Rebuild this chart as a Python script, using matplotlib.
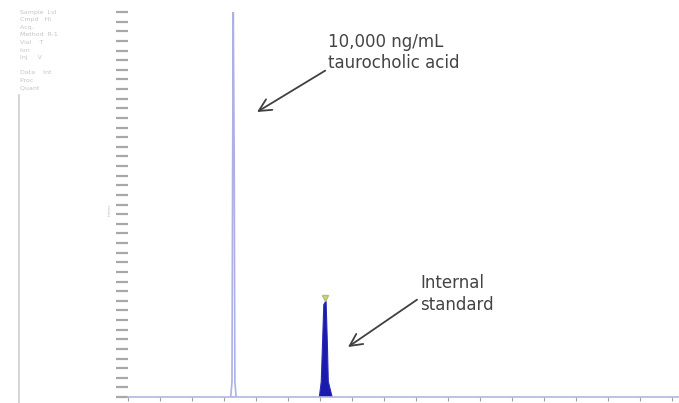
import matplotlib
matplotlib.use("Agg")
import matplotlib.pyplot as plt
from matplotlib.ticker import MultipleLocator, NullFormatter

# Data: retention time (min) vs relative intensity (%)
peak1_t = [1.605, 1.625, 1.635, 1.645, 1.66, 1.67, 1.69]
peak1_y = [0.0, 4.0, 60.0, 100.0, 60.0, 4.0, 0.0]
peak2_t = [2.99, 3.02, 3.04, 3.06, 3.095, 3.115, 3.13, 3.19]
peak2_y = [0.0, 4.0, 14.0, 24.0, 25.0, 14.0, 4.0, 0.0]
peak2_apex = (3.078, 25.8)

label1 = "10,000 ng/mL\ntaurocholic acid"
label2 = "Internal\nstandard"

fig = plt.figure(figsize=(6.79, 4.03), dpi=100)
W, H = 679, 403
ax = fig.add_axes([128 / W, (H - 397) / H, (679 - 128) / W, (397 - 12) / H])
ax.set_xlim(0, 8.61)
ax.set_ylim(0, 100)

ax.fill(peak1_t, peak1_y, facecolor="none", edgecolor="#aeb0e6", lw=1.2)
ax.fill(peak2_t, peak2_y, facecolor="#1a1aac", edgecolor="#2a2ab8", lw=0.8)
ax.plot([peak2_apex[0]], [peak2_apex[1]], marker="v", ms=4, color="#c8d890", mec="#b0c070")

for s in ["top", "right"]:
    ax.spines[s].set_visible(False)
ax.spines["left"].set_visible(False)
ax.spines["bottom"].set_color("#b4b6e0")
ax.spines["bottom"].set_linewidth(1.2)

ax.xaxis.set_major_locator(MultipleLocator(0.5))
ax.xaxis.set_major_formatter(NullFormatter())
ax.tick_params(axis="x", length=3, color="#a0a0a0", width=0.8)
ax.yaxis.set_major_locator(MultipleLocator(2.5))
ax.yaxis.set_major_formatter(NullFormatter())
ax.tick_params(axis="y", which="major", length=9, color="#a8a8a8", width=1.6)

ax.annotate(label1, xy=(257 / W, (H - 112) / H), xycoords="figure fraction",
            xytext=(328 / W, (H - 33) / H), textcoords="figure fraction",
            fontsize=12, color="#444444", va="top", ha="left", linespacing=1.25,
            arrowprops=dict(arrowstyle="->", color="#404040", lw=1.3,
                            shrinkA=0, shrinkB=0, mutation_scale=22,
                            relpos=(-0.02, 0.05)))
ax.annotate(label2, xy=(348 / W, (H - 347) / H), xycoords="figure fraction",
            xytext=(420 / W, (H - 274) / H), textcoords="figure fraction",
            fontsize=12, color="#444444", va="top", ha="left", linespacing=1.25,
            arrowprops=dict(arrowstyle="->", color="#404040", lw=1.3,
                            shrinkA=0, shrinkB=0, mutation_scale=22,
                            relpos=(-0.04, 0.35)))

# left info panel (faint, illegible in source)
fig.add_artist(plt.Line2D([19 / W, 19 / W], [0, (H - 95) / H], color="#cfcfcf", lw=1.2))
info = ["Sample  Lvl", "Cmpd   Hi", "Acq.   ", "Method  R-1", "Vial    T", "Ion    ", "Inj     V", "", "Data    Int", "Proc    ", "Quant   "]
for i, s in enumerate(info):
    fig.text(20 / W, (H - 10 - i * 7.5) / H, s, fontsize=4.5, color="#c4c4c4", va="top", family="DejaVu Sans")
fig.text(110 / W, (H - 210) / H, "Intens", fontsize=3, color="#bbbbbb", rotation=90, ha="center", va="center")

fig.savefig("out.png", dpi=100)
